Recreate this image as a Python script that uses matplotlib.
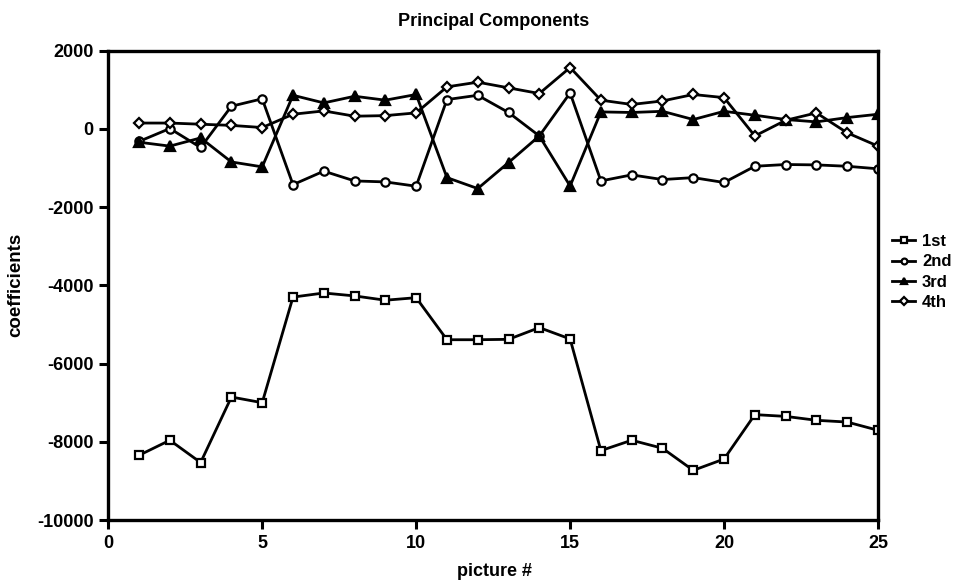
import matplotlib
matplotlib.use("Agg")
import matplotlib.pyplot as plt

plt.rcParams['font.family'] = ['Liberation Sans', 'DejaVu Sans']
plt.rcParams['font.weight'] = 'bold'
plt.rcParams['axes.unicode_minus'] = False

pictures = list(range(1, 26))
first = [-8345, -7960, -8530, -6855, -7000, -4300, -4195, -4270, -4380, -4315,
         -5390, -5390, -5380, -5080, -5370, -8225, -7960, -8165, -8730, -8440,
         -7305, -7350, -7450, -7495, -7705]
second = [-320, 10, -475, 580, 770, -1425, -1080, -1330, -1355, -1465,
          750, 860, 420, -180, 920, -1330, -1175, -1295, -1245, -1370,
          -955, -910, -920, -955, -1020]
third = [-340, -440, -230, -845, -970, 860, 665, 835, 735, 880,
         -1245, -1525, -860, -180, -1460, 435, 420, 450, 240, 450,
         350, 240, 180, 290, 375]
fourth = [150, 150, 120, 90, 35, 375, 460, 325, 340, 410,
          1075, 1195, 1050, 905, 1570, 735, 625, 715, 880, 800,
          -180, 220, 410, -100, -440]
labels = ['1st', '2nd', '3rd', '4th']
xticks = [0, 5, 10, 15, 20, 25]
yticks = [-10000, -8000, -6000, -4000, -2000, 0, 2000]

fig = plt.figure(figsize=(9.64, 5.8), dpi=100)
ax = fig.add_axes([0.1123, 0.1034, 0.7985, 0.8092])

styles = [
    dict(marker='s', markerfacecolor='white', markersize=6),
    dict(marker='o', markerfacecolor='white', markersize=6),
    dict(marker='^', markerfacecolor='black', markersize=6.5),
    dict(marker='D', markerfacecolor='white', markersize=5.5),
]
for ys, lab, st in zip([first, second, third, fourth], labels, styles):
    ax.plot(pictures, ys, color='black', linewidth=2.0, markeredgecolor='black',
            markeredgewidth=1.6, label=lab, **st)

ax.set_xlim(0, 25)
ax.set_ylim(-10000, 2000)
ax.set_xticks(xticks)
ax.set_yticks(yticks)
ax.tick_params(direction='out', length=6.5, width=2.2, labelsize=13, pad=4)
for lbl in ax.get_xticklabels() + ax.get_yticklabels():
    lbl.set_fontweight('bold')
for sp in ax.spines.values():
    sp.set_linewidth(2.4)

ax.set_title('Principal Components', fontsize=13, fontweight='bold', pad=18)
ax.set_xlabel('picture #', fontsize=13, fontweight='bold')
ax.set_ylabel('coefficients', fontsize=13.5, fontweight='bold')
ax.yaxis.set_label_coords(-0.1095, 0.5)
ax.xaxis.set_label_coords(0.502, -0.091)

leg = fig.legend(loc='center left', bbox_to_anchor=(892 / 964, 1 - 272 / 580),
                 frameon=False, fontsize=12, handlelength=1.4, handletextpad=0.4,
                 labelspacing=0.32, borderpad=0, borderaxespad=0, markerscale=0.7)
for t in leg.get_texts():
    t.set_fontweight('bold')

fig.savefig('out.png', dpi=100)
